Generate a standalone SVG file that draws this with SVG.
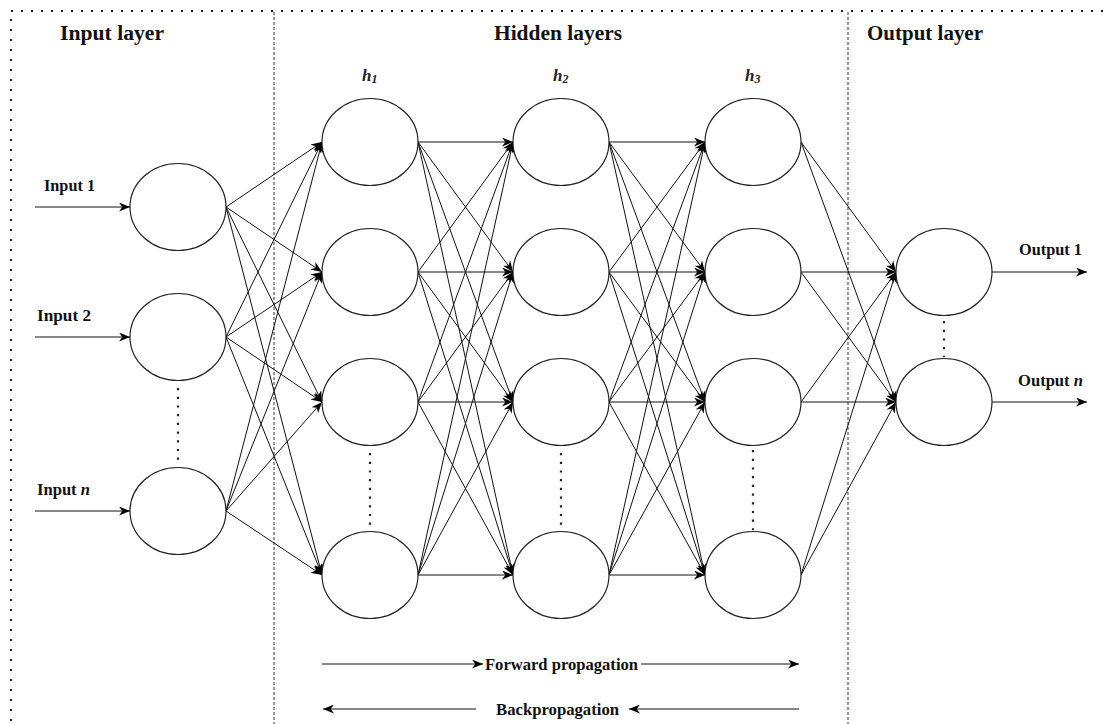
<svg xmlns="http://www.w3.org/2000/svg" width="1103" height="724" viewBox="0 0 1103 724">
  <defs>
    <marker id="arrow" viewBox="0 0 11 9" markerWidth="11" markerHeight="9" refX="11" refY="4.5" orient="auto" markerUnits="userSpaceOnUse">
      <path d="M0,0 L11,4.5 L0,9 L3.3,4.5 Z" fill="#000"/>
    </marker>
    <style>
      .frame { fill: none; stroke: #222; stroke-width: 2; stroke-dasharray: 2 8; }
      .sep { stroke: #333; stroke-width: 1; stroke-dasharray: 3 2; fill: none; }
      .dots { stroke: #222; stroke-width: 2.2; stroke-dasharray: 2.2 6.5; fill: none; }
      .node { fill: #fff; stroke: #222; stroke-width: 1.2; }
      .edge { stroke: #111; stroke-width: 1; fill: none; marker-end: url(#arrow); }
      .title { font-family: "Liberation Serif", "Times New Roman", serif; font-weight: bold; font-size: 20px; fill: #111; }
      .label { font-family: "Liberation Serif", "Times New Roman", serif; font-weight: bold; font-size: 16px; fill: #111; }
      .hlab { font-family: "Liberation Serif", "Times New Roman", serif; font-style: italic; font-weight: bold; font-size: 17px; fill: #222; }
    </style>
  </defs>

  <rect width="1103" height="724" fill="#fff"/>

  <!-- outer dotted frame and layer separators -->
  <rect class="frame" x="11" y="11" width="1120" height="740"/>
  <line class="sep" x1="274" y1="12" x2="274" y2="724"/>
  <line class="sep" x1="848" y1="12" x2="848" y2="724"/>

  <!-- section titles -->
  <text class="title" x="60" y="40" textLength="104" lengthAdjust="spacingAndGlyphs">Input layer</text>
  <text class="title" x="494" y="40" textLength="128" lengthAdjust="spacingAndGlyphs">Hidden layers</text>
  <text class="title" x="867" y="40" textLength="116" lengthAdjust="spacingAndGlyphs">Output layer</text>

  <!-- hidden layer labels -->
  <text class="hlab" x="362" y="81">h<tspan font-size="12" dy="2">1</tspan></text>
  <text class="hlab" x="553" y="81">h<tspan font-size="12" dy="2">2</tspan></text>
  <text class="hlab" x="745" y="81">h<tspan font-size="12" dy="2">3</tspan></text>

  <!-- connectors -->
  <g id="connectors">
    <!-- external inputs -->
    <line class="edge" x1="35" y1="207" x2="130" y2="207"/>
    <line class="edge" x1="35" y1="337" x2="130" y2="337"/>
    <line class="edge" x1="35" y1="511" x2="130" y2="511"/>

    <!-- input layer to h1 -->
    <line class="edge" x1="226" y1="207" x2="322" y2="142"/>
    <line class="edge" x1="226" y1="207" x2="322" y2="272"/>
    <line class="edge" x1="226" y1="207" x2="322" y2="402"/>
    <line class="edge" x1="226" y1="207" x2="322" y2="575"/>
    <line class="edge" x1="226" y1="337" x2="322" y2="142"/>
    <line class="edge" x1="226" y1="337" x2="322" y2="272"/>
    <line class="edge" x1="226" y1="337" x2="322" y2="402"/>
    <line class="edge" x1="226" y1="337" x2="322" y2="575"/>
    <line class="edge" x1="226" y1="511" x2="322" y2="142"/>
    <line class="edge" x1="226" y1="511" x2="322" y2="272"/>
    <line class="edge" x1="226" y1="511" x2="322" y2="402"/>
    <line class="edge" x1="226" y1="511" x2="322" y2="575"/>

    <!-- h1 to h2 -->
    <line class="edge" x1="418" y1="142" x2="513" y2="142"/>
    <line class="edge" x1="418" y1="142" x2="513" y2="272"/>
    <line class="edge" x1="418" y1="142" x2="513" y2="402"/>
    <line class="edge" x1="418" y1="142" x2="513" y2="575"/>
    <line class="edge" x1="418" y1="272" x2="513" y2="142"/>
    <line class="edge" x1="418" y1="272" x2="513" y2="272"/>
    <line class="edge" x1="418" y1="272" x2="513" y2="402"/>
    <line class="edge" x1="418" y1="272" x2="513" y2="575"/>
    <line class="edge" x1="418" y1="402" x2="513" y2="142"/>
    <line class="edge" x1="418" y1="402" x2="513" y2="272"/>
    <line class="edge" x1="418" y1="402" x2="513" y2="402"/>
    <line class="edge" x1="418" y1="402" x2="513" y2="575"/>
    <line class="edge" x1="418" y1="575" x2="513" y2="142"/>
    <line class="edge" x1="418" y1="575" x2="513" y2="272"/>
    <line class="edge" x1="418" y1="575" x2="513" y2="402"/>
    <line class="edge" x1="418" y1="575" x2="513" y2="575"/>

    <!-- h2 to h3 -->
    <line class="edge" x1="609" y1="142" x2="705" y2="142"/>
    <line class="edge" x1="609" y1="142" x2="705" y2="272"/>
    <line class="edge" x1="609" y1="142" x2="705" y2="402"/>
    <line class="edge" x1="609" y1="142" x2="705" y2="575"/>
    <line class="edge" x1="609" y1="272" x2="705" y2="142"/>
    <line class="edge" x1="609" y1="272" x2="705" y2="272"/>
    <line class="edge" x1="609" y1="272" x2="705" y2="402"/>
    <line class="edge" x1="609" y1="272" x2="705" y2="575"/>
    <line class="edge" x1="609" y1="402" x2="705" y2="142"/>
    <line class="edge" x1="609" y1="402" x2="705" y2="272"/>
    <line class="edge" x1="609" y1="402" x2="705" y2="402"/>
    <line class="edge" x1="609" y1="402" x2="705" y2="575"/>
    <line class="edge" x1="609" y1="575" x2="705" y2="142"/>
    <line class="edge" x1="609" y1="575" x2="705" y2="272"/>
    <line class="edge" x1="609" y1="575" x2="705" y2="402"/>
    <line class="edge" x1="609" y1="575" x2="705" y2="575"/>

    <!-- h3 to output layer -->
    <line class="edge" x1="801" y1="142" x2="896" y2="272"/>
    <line class="edge" x1="801" y1="142" x2="896" y2="402"/>
    <line class="edge" x1="801" y1="272" x2="896" y2="272"/>
    <line class="edge" x1="801" y1="272" x2="896" y2="402"/>
    <line class="edge" x1="801" y1="402" x2="896" y2="272"/>
    <line class="edge" x1="801" y1="402" x2="896" y2="402"/>
    <line class="edge" x1="801" y1="575" x2="896" y2="272"/>
    <line class="edge" x1="801" y1="575" x2="896" y2="402"/>

    <!-- external outputs -->
    <line class="edge" x1="992" y1="272" x2="1087" y2="272"/>
    <line class="edge" x1="992" y1="402" x2="1087" y2="402"/>

    <!-- propagation direction arrows -->
    <line class="edge" x1="322" y1="664" x2="483" y2="664"/>
    <line class="edge" x1="641" y1="664" x2="799" y2="664"/>
    <line class="edge" x1="476" y1="709" x2="323" y2="709"/>
    <line class="edge" x1="799" y1="709" x2="629" y2="709"/>
  </g>

  <!-- continuation dots between neurons -->
  <line class="dots" x1="178" y1="388" x2="178" y2="466"/>
  <line class="dots" x1="370" y1="453" x2="370" y2="532"/>
  <line class="dots" x1="561" y1="453" x2="561" y2="532"/>
  <line class="dots" x1="753" y1="450" x2="753" y2="530"/>
  <line class="dots" x1="944" y1="321" x2="944" y2="357"/>

  <!-- input layer -->
  <g id="in1"><ellipse class="node" cx="178" cy="207" rx="48" ry="43.5"/></g>
  <g id="in2"><ellipse class="node" cx="178" cy="337" rx="48" ry="43.5"/></g>
  <g id="inN"><ellipse class="node" cx="178" cy="511" rx="48" ry="43.5"/></g>

  <!-- hidden layer h1 -->
  <g id="h1-1"><ellipse class="node" cx="370" cy="142" rx="48" ry="43.5"/></g>
  <g id="h1-2"><ellipse class="node" cx="370" cy="272" rx="48" ry="43.5"/></g>
  <g id="h1-3"><ellipse class="node" cx="370" cy="402" rx="48" ry="43.5"/></g>
  <g id="h1-4"><ellipse class="node" cx="370" cy="575" rx="48" ry="43.5"/></g>

  <!-- hidden layer h2 -->
  <g id="h2-1"><ellipse class="node" cx="561" cy="142" rx="48" ry="43.5"/></g>
  <g id="h2-2"><ellipse class="node" cx="561" cy="272" rx="48" ry="43.5"/></g>
  <g id="h2-3"><ellipse class="node" cx="561" cy="402" rx="48" ry="43.5"/></g>
  <g id="h2-4"><ellipse class="node" cx="561" cy="575" rx="48" ry="43.5"/></g>

  <!-- hidden layer h3 -->
  <g id="h3-1"><ellipse class="node" cx="753" cy="142" rx="48" ry="43.5"/></g>
  <g id="h3-2"><ellipse class="node" cx="753" cy="272" rx="48" ry="43.5"/></g>
  <g id="h3-3"><ellipse class="node" cx="753" cy="402" rx="48" ry="43.5"/></g>
  <g id="h3-4"><ellipse class="node" cx="753" cy="575" rx="48" ry="43.5"/></g>

  <!-- output layer -->
  <g id="out1"><ellipse class="node" cx="944" cy="272" rx="48" ry="43.5"/></g>
  <g id="outN"><ellipse class="node" cx="944" cy="402" rx="48" ry="43.5"/></g>

  <!-- input / output labels -->
  <text class="label" x="44" y="191" textLength="51" lengthAdjust="spacingAndGlyphs">Input 1</text>
  <text class="label" x="37" y="321" textLength="54" lengthAdjust="spacingAndGlyphs">Input 2</text>
  <text class="label" x="37" y="495" textLength="53" lengthAdjust="spacingAndGlyphs">Input <tspan font-style="italic">n</tspan></text>
  <text class="label" x="1019" y="255" textLength="63" lengthAdjust="spacingAndGlyphs">Output 1</text>
  <text class="label" x="1018" y="386" textLength="65" lengthAdjust="spacingAndGlyphs">Output <tspan font-style="italic">n</tspan></text>

  <!-- propagation labels -->
  <text class="label" x="485" y="670" textLength="153" lengthAdjust="spacingAndGlyphs">Forward propagation</text>
  <text class="label" x="496" y="715" textLength="123" lengthAdjust="spacingAndGlyphs">Backpropagation</text>
</svg>
